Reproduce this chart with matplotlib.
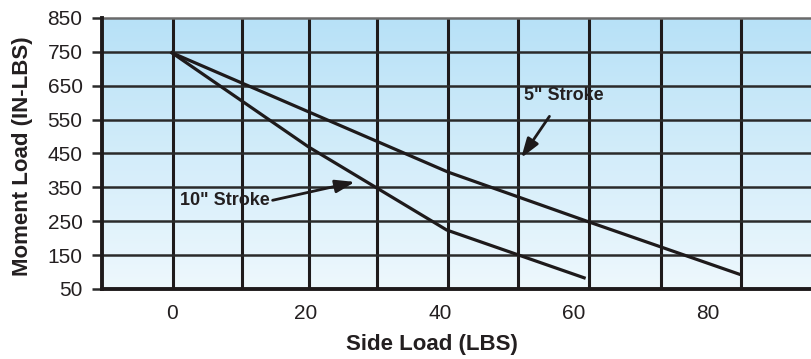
import numpy as np
import matplotlib
matplotlib.use('Agg')
import matplotlib.pyplot as plt

plt.rcParams['font.family'] = ['Liberation Sans', 'DejaVu Sans']

# Curves (side load in LBS, moment load in IN-LBS)
stroke10_x = [0, 20.4, 41.0, 61.5]
stroke10_y = [747, 469, 224, 83]
stroke5_x = [0, 41.2, 62.2, 84.6]
stroke5_y = [747, 395, 248, 94]

x_ticks = [0, 20, 40, 60, 80]
y_ticks = [50, 150, 250, 350, 450, 550, 650, 750, 850]
# vertical grid lines as printed (slightly off the tick labels)
grid_x = [0.15, 10.4, 20.4, 30.6, 41.2, 51.6, 62.2, 73.0, 84.9]

fig = plt.figure(figsize=(8.12, 3.59), dpi=100)
ax = fig.add_axes([0.1256, 0.195, 0.8744, 0.755])

# light blue gradient background
grad = np.linspace(0, 1, 256).reshape(-1, 1)
cmap = matplotlib.colors.LinearSegmentedColormap.from_list('bg', ['#eef8fd', '#b7e1f7'])
ax.imshow(grad, extent=[0, 1, 0, 1], transform=ax.transAxes, origin='lower',
          aspect='auto', cmap=cmap, zorder=0)

ax.set_xlim(-10.45, 95.5)
ax.set_ylim(50, 850)

for gx in grid_x:
    ax.axvline(gx, color='#1e1a1b', lw=2.2, zorder=1)
for gy in y_ticks[1:-1]:
    ax.axhline(gy, color='#2a2a2a', lw=1.8, zorder=1)
ax.axhline(850, color='#6a6a6a', lw=1.8, zorder=1, clip_on=False)

ax.plot(stroke10_x, stroke10_y, color='#1e1a1b', lw=2.3, zorder=3)
ax.plot(stroke5_x, stroke5_y, color='#1e1a1b', lw=2.3, zorder=3)

arrow = dict(arrowstyle='-|>,head_length=0.9,head_width=0.3', color='#1e1a1b', lw=2)
ax.annotate('5" Stroke', xy=(52.1, 437), xytext=(58.4, 620), ha='center', va='center',
            fontsize=13, fontweight='bold', color='#231f20',
            arrowprops=dict(arrow, shrinkA=8, shrinkB=0), zorder=4)
ax.annotate('10" Stroke', xy=(27.3, 366), xytext=(7.9, 310), ha='center', va='center',
            fontsize=13, fontweight='bold', color='#231f20',
            arrowprops=dict(arrow, shrinkA=0, shrinkB=0, relpos=(1.0, 0.5)), zorder=4)

ax.set_xticks(x_ticks)
ax.set_yticks(y_ticks)
ax.tick_params(axis='x', length=0, pad=11, labelsize=15, labelcolor='#231f20')
ax.tick_params(axis='y', length=7, width=1.8, pad=7, labelsize=15, labelcolor='#231f20',
               color='#2a2a2a')

for s in ['top', 'right']:
    ax.spines[s].set_visible(False)
ax.spines['left'].set_linewidth(2.8)
ax.spines['bottom'].set_linewidth(2.8)
ax.spines['left'].set_color('#1e1a1b')
ax.spines['bottom'].set_color('#1e1a1b')
ax.spines['left'].set_zorder(5)
ax.spines['bottom'].set_zorder(5)

ax.set_xlabel('Side Load (LBS)', fontsize=16, fontweight='bold', color='#231f20')
ax.xaxis.set_label_coords(0.465, -0.165)
ax.set_ylabel('Moment Load (IN-LBS)', fontsize=16, fontweight='bold', color='#231f20')
ax.yaxis.set_label_coords(-0.097, 0.49)

fig.savefig('out.png', dpi=100)
